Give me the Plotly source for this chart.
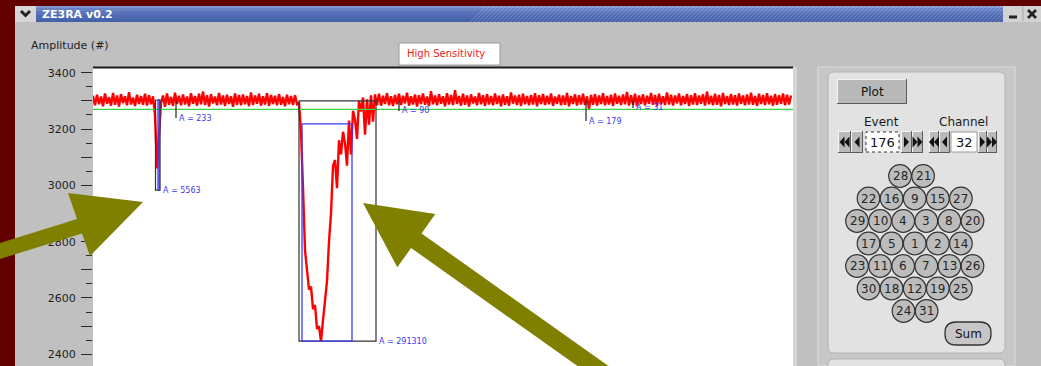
import plotly.graph_objects as go

# ---- ADC trace, event 176 / channel 32 (every 2nd sample) ----
adc_counts = [
    3318, 3284, 3322, 3288, 3315, 3281, 3326, 3290, 3313, 3283, 3328, 3286, 3319, 3280, 3324, 3292, 3316, 3284, 3331, 3287, 3312, 3282, 3322, 3289, 3317,
    3286, 3325, 3283, 3320, 3288, 3316, 3250, 3060, 3200, 3292, 3319, 3279, 3326, 3286, 3314, 3282, 3329, 3289, 3318, 3284, 3323, 3287, 3315, 3281, 3327,
    3290, 3317, 3283, 3325, 3288, 3333, 3285, 3320, 3280, 3324, 3291, 3315, 3284, 3328, 3287, 3319, 3282, 3322, 3289, 3316, 3279, 3326, 3286, 3321, 3284,
    3323, 3288, 3317, 3281, 3330, 3285, 3319, 3290, 3325, 3283, 3316, 3287, 3327, 3282, 3321, 3289, 3318, 3284, 3324, 3286, 3314, 3281, 3322, 3288, 3317,
    3285, 3320, 3288, 3292, 3190, 2990, 2770, 2700, 2630, 2640, 2560, 2575, 2490, 2500, 2447, 2520, 2600, 2660, 2800, 2900, 3070, 3090, 2990, 3160, 3110,
    3190, 3150, 3070, 3230, 3110, 3265, 3235, 3165, 3300, 3262, 3312, 3180, 3305, 3215, 3320, 3226, 3323, 3284, 3325, 3283, 3318, 3289, 3327, 3284, 3316,
    3282, 3321, 3288, 3325, 3285, 3318, 3291, 3329, 3283, 3316, 3287, 3323, 3280, 3320, 3289, 3326, 3286, 3315, 3282, 3334, 3288, 3319, 3284, 3324, 3290,
    3316, 3281, 3327, 3287, 3321, 3285, 3338, 3289, 3317, 3283, 3325, 3286, 3319, 3280, 3323, 3291, 3315, 3284, 3328, 3288, 3320, 3282, 3324, 3287, 3317,
    3284, 3326, 3289, 3318, 3281, 3323, 3286, 3316, 3283, 3330, 3290, 3319, 3285, 3322, 3282, 3325, 3288, 3317, 3284, 3321, 3287, 3327, 3281, 3320, 3289,
    3324, 3285, 3318, 3288, 3326, 3282, 3315, 3290, 3322, 3284, 3319, 3286, 3328, 3281, 3317, 3289, 3323, 3283, 3320, 3287, 3325, 3285, 3316, 3272, 3321,
    3286, 3324, 3283, 3319, 3289, 3327, 3284, 3317, 3287, 3322, 3282, 3326, 3290, 3318, 3285, 3323, 3288, 3332, 3283, 3320, 3286, 3325, 3281, 3319, 3289,
    3323, 3284, 3318, 3290, 3328, 3286, 3321, 3282, 3325, 3288, 3316, 3285, 3330, 3287, 3322, 3283, 3319, 3291, 3326, 3284, 3317, 3289, 3324, 3282, 3320,
    3287, 3327, 3285, 3319, 3290, 3323, 3283, 3333, 3288, 3318, 3284, 3325, 3286, 3321, 3281, 3328, 3289, 3317, 3285, 3324, 3287, 3320, 3283, 3326, 3290,
    3319, 3284, 3323, 3287, 3329, 3286, 3317, 3282, 3325, 3289, 3321, 3285, 3327, 3288, 3318, 3283, 3324, 3286, 3320, 3290, 3326, 3284, 3322, 3287, 3319,
]
sample_step = 2
threshold_counts = 3270

# integrated pulses (sample window, pedestal, floor, area)
pulse_start = [62.5, 206]
pulse_stop = [67, 283]
pulse_top = [3303, 3300]
pulse_floor = [2983, 2447]
pulse_area = [5563, 291310]
fit_start = [65, 209]
fit_stop = [66.5, 259]
fit_top = [3303, 3218]

# small hits marked with a tick
hit_sample = [83, 306, 493, 540]
hit_floor = [3239, 3264, 3228, 3275]
hit_area = [233, 90, 179, 31]

# amplitude axis
y_major = list(range(2400, 3401, 100))
y_labels = [str(v) if v % 200 == 0 else "" for v in y_major]

# detector channel map, row by row
channel_rows = [[28, 21], [22, 16, 9, 15, 27], [29, 10, 4, 3, 8, 20], [17, 5, 1, 2, 14],
                [23, 11, 6, 7, 13, 26], [30, 18, 12, 19, 25], [24, 31]]
event_number = 176
channel_number = 32

W, H = 1041, 366


def fx(x):
    return x / W


def fy(y):
    return 1 - y / H


shapes, notes = [], []


def box(x0, y0, x1, y1, fill, edge=None, width=1, layer="below", dash=None):
    line = dict(width=0) if edge is None else dict(color=edge, width=width)
    if dash:
        line["dash"] = dash
    shapes.append(dict(type="rect", xref="paper", yref="paper", x0=fx(x0), x1=fx(x1),
                       y0=fy(y1), y1=fy(y0), fillcolor=fill, line=line, layer=layer))


def seg(x0, y0, x1, y1, color, width=1, layer="below"):
    shapes.append(dict(type="line", xref="paper", yref="paper", x0=fx(x0), y0=fy(y0),
                       x1=fx(x1), y1=fy(y1), line=dict(color=color, width=width), layer=layer))


def P(x, y):
    return f"{fx(x):.6f},{fy(y):.6f}"


def poly(pts, fill, layer="below"):
    d = "M " + " L ".join(P(x, y) for x, y in pts) + " Z"
    shapes.append(dict(type="path", xref="paper", yref="paper", path=d, fillcolor=fill,
                       line=dict(width=0), layer=layer))


def rounded(x0, y0, x1, y1, r, fill, edge, width=1):
    d = (f"M {P(x0 + r, y0)} L {P(x1 - r, y0)} Q {P(x1, y0)} {P(x1, y0 + r)} "
         f"L {P(x1, y1 - r)} Q {P(x1, y1)} {P(x1 - r, y1)} L {P(x0 + r, y1)} "
         f"Q {P(x0, y1)} {P(x0, y1 - r)} L {P(x0, y0 + r)} Q {P(x0, y0)} {P(x0 + r, y0)} Z")
    shapes.append(dict(type="path", xref="paper", yref="paper", path=d, fillcolor=fill,
                       line=dict(color=edge, width=width), layer="below"))


def circle(cx, cy, r, fill, edge, width=1):
    shapes.append(dict(type="circle", xref="paper", yref="paper", x0=fx(cx - r), x1=fx(cx + r),
                       y0=fy(cy + r), y1=fy(cy - r), fillcolor=fill,
                       line=dict(color=edge, width=width), layer="below"))


def text(x, y, s, size=12, color="#222", anchor="center", bold=False):
    notes.append(dict(xref="paper", yref="paper", x=fx(x), y=fy(y),
                      text=f"<b>{s}</b>" if bold else s, showarrow=False,
                      xanchor=anchor, yanchor="middle",
                      font=dict(family="DejaVu Sans", size=size, color=color)))


def bevel(x0, y0, x1, y1, fill="#bababa"):
    box(x0, y0, x1, y1, fill)
    seg(x0, y0 + 0.5, x1, y0 + 0.5, "#f4f4f4")
    seg(x0 + 0.5, y0, x0 + 0.5, y1, "#f4f4f4")
    seg(x0, y1 - 0.5, x1, y1 - 0.5, "#5a5a5a")
    seg(x1 - 0.5, y0, x1 - 0.5, y1, "#5a5a5a")


# ---- application window ----
box(15, 22, 1041, 366, "#c0c0c0")
for (a, b, c) in [(6, 8, "#8098d2"), (8, 11, "#6882c4"), (11, 15, "#5873ba"),
                  (15, 19, "#4d69b1"), (19, 22, "#4562aa")]:
    box(15, a, 1041, b, c)
for x in range(470, 1004, 4):
    seg(x, 22, x + 16, 6, "rgba(255,255,255,0.20)")
box(15, 6, 36, 22, "#d6d6d6")
shapes.append(dict(type="path", xref="paper", yref="paper",
                   path=f"M {P(21, 11)} L {P(25.5, 15.5)} L {P(30, 11)}",
                   line=dict(color="#222", width=3), layer="below"))
box(1003, 6, 1041, 22, "#d2d2d2")
seg(1023, 7, 1023, 21, "#a8a8a8")
seg(1009, 17, 1017, 17, "#222", 3)
seg(1028, 10, 1036, 18, "#222", 2.6)
seg(1028, 18, 1036, 10, "#222", 2.6)
text(40, 14.5, "ZE3RA v0.2", 11, "white", "left", bold=True)

text(29, 45, "Amplitude (#)", 11, "#1e1e1e", "left")
box(399, 43, 500, 65, "white", "#9a9a9a", 1)
text(405, 54, "High Sensitivity", 10, "#ee1c1c", "left")

# plot canvas
box(93, 67, 793, 366, "white")
box(793, 67, 797, 366, "#d6d6d6")
seg(93, 67.5, 793, 67.5, "#1a1a1a", 2)

# ---- control panel ----
box(818, 67, 1015, 366, "#c7c7c7", "#dcdcdc", 1)
rounded(828, 72, 1005, 353, 6, "#e2e2e2", "#b2b2b2")
rounded(828, 359, 1005, 390, 6, "#e2e2e2", "#b2b2b2")

bevel(837, 79, 907, 104, "#b8b8b8")
text(872, 91.5, "Plot", 12, "#111")

text(881.5, 122, "Event", 12, "#1a1a1a")
text(963, 122, "Channel", 12, "#1a1a1a")


def tri(cx, cy, direction):
    if direction < 0:
        poly([(cx - 2.5, cy), (cx + 2.5, cy - 5.5), (cx + 2.5, cy + 5.5)], "#111")
    else:
        poly([(cx + 2.5, cy), (cx - 2.5, cy - 5.5), (cx - 2.5, cy + 5.5)], "#111")


def spinner(xs, value, dotted):
    y0, y1, cy = 131, 153, 142
    bevel(xs[0], y0, xs[1], y1)
    tri((xs[0] + xs[1]) / 2 - 2.5, cy, -1)
    tri((xs[0] + xs[1]) / 2 + 2.5, cy, -1)
    bevel(xs[1], y0, xs[2], y1)
    tri((xs[1] + xs[2]) / 2, cy, -1)
    box(xs[3], y0 + 1, xs[4], y1 - 1, "white", "#333" if dotted else "#9a9a9a", 1,
        dash="dot" if dotted else None)
    text((xs[3] + xs[4]) / 2, cy, str(value), 13, "#111")
    bevel(xs[5], y0, xs[6], y1)
    tri((xs[5] + xs[6]) / 2, cy, 1)
    bevel(xs[6], y0, xs[7], y1)
    tri((xs[6] + xs[7]) / 2 - 2.5, cy, 1)
    tri((xs[6] + xs[7]) / 2 + 2.5, cy, 1)


spinner([838, 851, 863, 866, 899, 901, 912, 923], event_number, True)
spinner([929, 939, 950, 951, 977, 978, 987, 997], channel_number, False)

row_x0 = [900, 868.5, 857, 868.5, 857, 868.5, 903.5]
for r, row in enumerate(channel_rows):
    cy = 176 + 22.5 * r
    for c, ch in enumerate(row):
        cx = row_x0[r] + 23.1 * c
        circle(cx, cy, 11.3, "#bcbcbc", "#333", 1.2)
        text(cx, cy, str(ch), 12, "#262626")

rounded(945, 322, 991, 345, 11, "#c6c6c6", "#333", 1.3)
text(968, 333.5, "Sum", 12, "#111")

# ---- pointer arrows ----
olive = "#808000"
poly([(0, 243), (77, 219), (68, 193), (143, 202), (90, 256), (82, 233.5), (0, 259)],
     olive, layer="above")
poly([(363, 203), (435.3, 214), (421.5, 233.4), (608.5, 366), (577.5, 366), (411.1, 248),
      (397.3, 267.3)], olive, layer="above")

# ---- traces ----
samples = [i * sample_step for i in range(len(adc_counts))]
fig = go.Figure()
fig.add_trace(go.Scatter(x=samples, y=adc_counts, mode="lines",
                         line=dict(color="#ff0000", width=2.4), hoverinfo="skip"))
fig.add_trace(go.Scatter(x=[0, 700], y=[threshold_counts, threshold_counts], mode="lines",
                         line=dict(color="#38d838", width=1.3), hoverinfo="skip"))

label_font = dict(family="DejaVu Sans", size=8, color="#3a3af0")
for s, e, t, f, a in zip(pulse_start, pulse_stop, pulse_top, pulse_floor, pulse_area):
    fig.add_trace(go.Scatter(x=[s, e, e, s, s], y=[t, t, f, f, t], mode="lines",
                             line=dict(color="#333", width=1.2), hoverinfo="skip"))
    notes.append(dict(xref="x", yref="y", x=e, y=f, text=f"A = {a}", showarrow=False,
                      xanchor="left", yanchor="middle", xshift=1, font=label_font))
for s, e, t, f in zip(fit_start, fit_stop, fit_top, pulse_floor):
    fig.add_trace(go.Scatter(x=[s, e, e, s, s], y=[t, t, f, f, t], mode="lines",
                             line=dict(color="#3c3cf4", width=1.3), hoverinfo="skip"))
for h, f, a in zip(hit_sample, hit_floor, hit_area):
    fig.add_trace(go.Scatter(x=[h, h], y=[3300, f], mode="lines",
                             line=dict(color="#222", width=1.2), hoverinfo="skip"))
    notes.append(dict(xref="x", yref="y", x=h, y=f, text=f"A = {a}", showarrow=False,
                      xanchor="left", yanchor="middle", xshift=1, font=label_font))

fig.update_layout(
    width=W, height=H, autosize=False,
    margin=dict(l=0, r=0, t=0, b=0, pad=0),
    paper_bgcolor="#620000", plot_bgcolor="rgba(0,0,0,0)",
    showlegend=False, shapes=shapes, annotations=notes,
    xaxis=dict(domain=[fx(93), fx(793)], range=[0, 700], visible=False, fixedrange=True),
    yaxis=dict(domain=[0, fy(67)], range=[2358.4, 3420.2], tickmode="array",
               tickvals=y_major, ticktext=y_labels, ticks="outside", ticklen=11,
               tickwidth=1.2, tickcolor="#2a2a2a", ticklabelstandoff=3,
               minor=dict(dtick=50, tick0=0, ticks="outside", ticklen=6, tickwidth=1.2,
                          tickcolor="#2a2a2a"),
               showgrid=False, zeroline=False, showline=False, fixedrange=True,
               tickfont=dict(family="DejaVu Sans", size=11, color="#1e1e1e")),
)
fig.write_html("out.html", config=dict(displayModeBar=False))
